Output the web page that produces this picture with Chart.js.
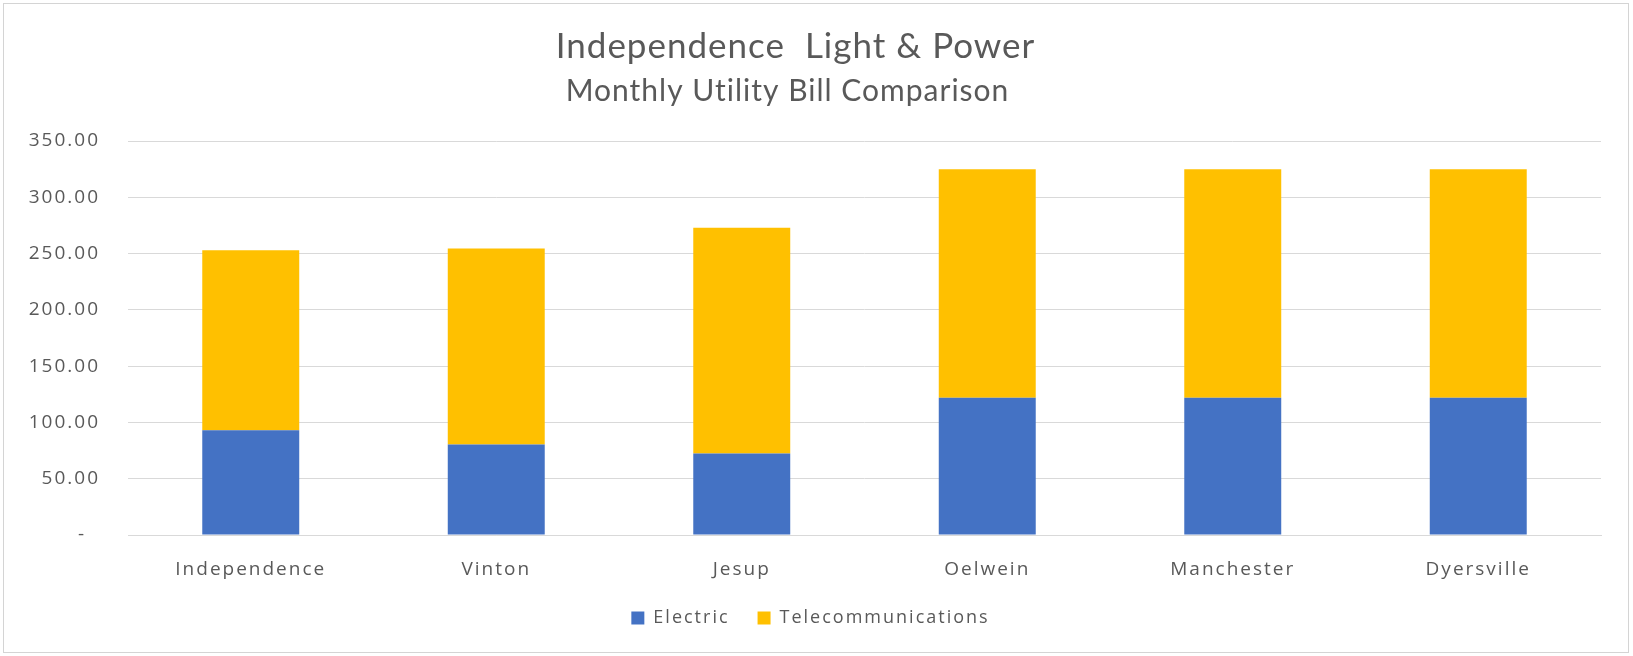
<!DOCTYPE html>
<html>
<head>
<meta charset="utf-8">
<script src="https://cdn.jsdelivr.net/npm/chart.js@4.4.1/dist/chart.umd.min.js"></script>
<style>
  html, body { margin: 0; padding: 0; background: #fff; }
  #wrap { position: relative; width: 1633px; height: 656px; }
  #frame { position: absolute; left: 3px; top: 3px; right: 4px; bottom: 3px; border: 1px solid #d4d4d4; pointer-events: none; }
</style>
</head>
<body>
<div id="wrap">
  <canvas id="chart" width="1633" height="656"></canvas>
  <div id="frame"></div>
</div>
<script>
const towns = ['Independence', 'Vinton', 'Jesup', 'Oelwein', 'Manchester', 'Dyersville'];
const electric = [93, 80.5, 72.5, 122, 122, 122];
const telecom = [160, 174, 200.5, 203, 203, 203];
const yTicks = [0, 50, 100, 150, 200, 250, 300, 350];

const titleText = 'Independence  Light & Power';
const subtitleText = 'Monthly Utility Bill Comparison';

const textGray = '#595959';
const gridGray = '#d9d9d9';

// Excel-style wide text spacing for axes and legend, tighter for the titles
// (the titles in the original also sit a little left of the centre)
const spacing = {
    id: 'spacing',
    afterInit(chart) {
        chart.boxes.forEach(b => {
            if (b.options && b.options.text !== undefined) {
                const orig = b.draw.bind(b);
                const shift = b.options.text === titleText ? -15 : -23;
                b.draw = function (area) {
                    const c = this.ctx;
                    const prev = c.letterSpacing;
                    c.save();
                    c.translate(shift, 0);
                    c.letterSpacing = '1px';
                    orig(area);
                    c.restore();
                    c.letterSpacing = prev;
                };
            }
        });
    },
    beforeUpdate(chart) { chart.ctx.letterSpacing = '2px'; },
    beforeDraw(chart) { chart.ctx.letterSpacing = '2px'; }
};

const ctx = document.getElementById('chart').getContext('2d');
new Chart(ctx, {
    type: 'bar',
    data: {
        labels: towns,
        datasets: [
            { label: 'Electric', data: electric, backgroundColor: '#4472C4', barPercentage: 0.395, categoryPercentage: 1 },
            { label: 'Telecommunications', data: telecom, backgroundColor: '#FFC000', barPercentage: 0.395, categoryPercentage: 1 }
        ]
    },
    plugins: [spacing],
    options: {
        responsive: false,
        animation: false,
        layout: { padding: { left: 20, right: 32, top: 12, bottom: 19 } },
        plugins: {
            title: {
                display: true,
                text: titleText,
                color: textGray,
                font: { family: 'Lato', size: 35, weight: 'normal' },
                padding: { top: 14, bottom: 2 }
            },
            subtitle: {
                display: true,
                text: subtitleText,
                color: textGray,
                font: { family: 'Lato', size: 30, weight: 'normal' },
                padding: { top: 3, bottom: 32 }
            },
            legend: {
                position: 'bottom',
                labels: {
                    color: textGray,
                    boxWidth: 13,
                    boxHeight: 13,
                    padding: 28,
                    font: { family: 'Open Sans', size: 18 }
                }
            },
            tooltip: { enabled: false }
        },
        scales: {
            x: {
                stacked: true,
                grid: { display: false, drawTicks: false },
                border: { display: true, color: gridGray },
                afterFit: scale => { scale.height = 46; },
                ticks: {
                    color: textGray,
                    padding: 23,
                    font: { family: 'Open Sans', size: 19 }
                }
            },
            y: {
                stacked: true,
                min: yTicks[0],
                max: yTicks[yTicks.length - 1],
                afterBuildTicks: scale => { scale.ticks = yTicks.map(v => ({ value: v })); },
                afterFit: scale => { scale.width = 108; },
                grid: { color: gridGray, drawTicks: false },
                border: { display: false },
                ticks: {
                    color: textGray,
                    padding: 28,
                    font: { family: 'Open Sans', size: 19 },
                    callback: v => v === 0 ? '-  ' : v.toFixed(2)
                }
            }
        }
    }
});
</script>
</body>
</html>
